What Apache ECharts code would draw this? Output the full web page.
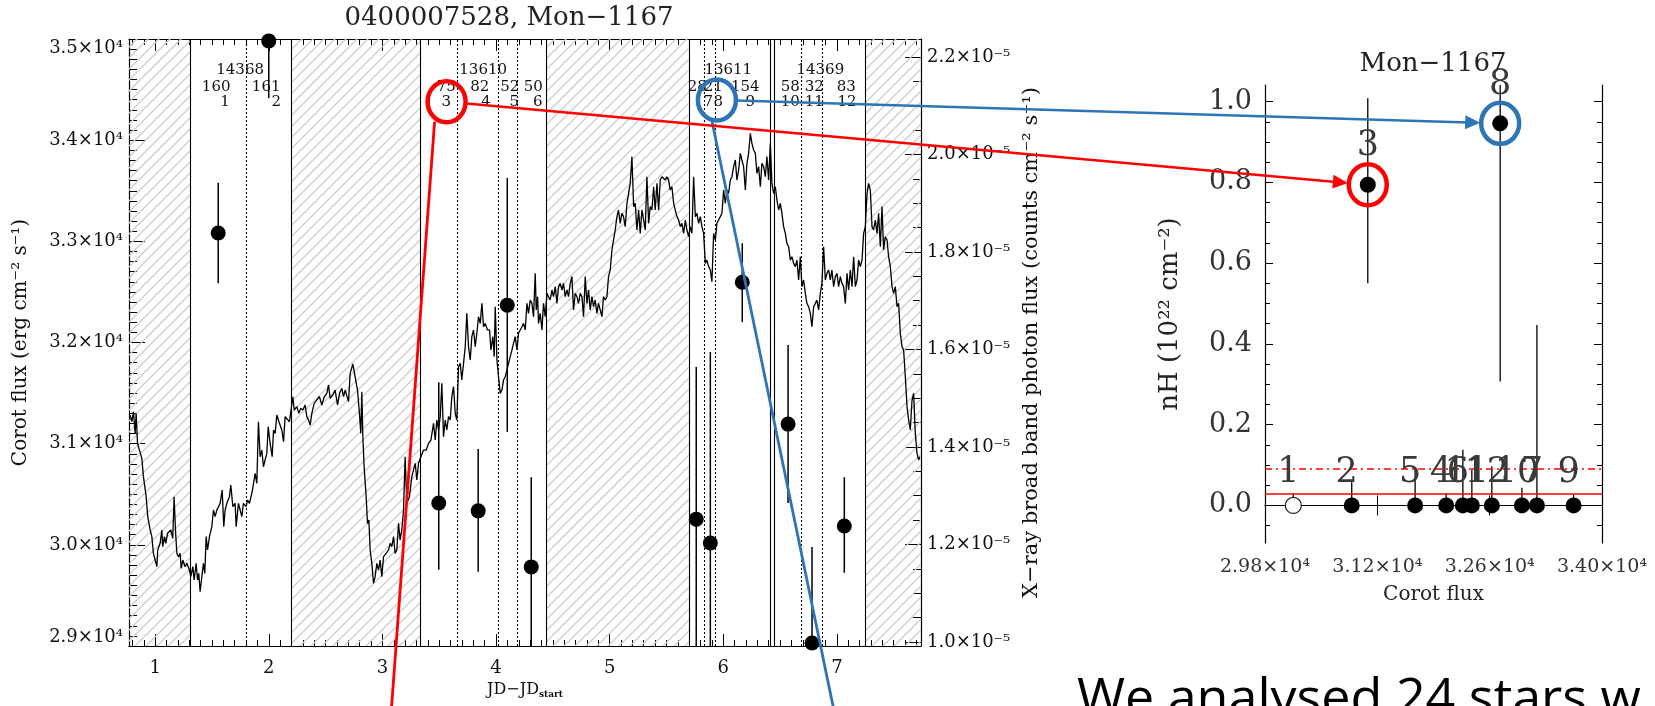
<!DOCTYPE html>
<html>
<head>
<meta charset="utf-8">
<script src="https://cdn.jsdelivr.net/npm/echarts@6/dist/echarts.min.js"></script>
<style>
  html, body { margin: 0; padding: 0; background: #fff; }
  #main { width: 1655px; height: 706px; }
</style>
</head>
<body>
<div id="main"></div>
<script>
var F = 'DejaVu Serif';

// CoRoT light curve: [JD - JD_start, Corot flux]
var lightCurve = [
  [0.780,31283],[0.795,31217],[0.809,31316],[0.824,31102],[0.833,31300],[0.845,31003],[0.862,31020],[0.883,30855],[0.897,30674],[0.921,30476],
  [0.935,30278],[0.956,30147],[0.971,30081],[0.985,29916],[1.000,29850],[1.015,29784],[1.023,29949],[1.044,30015],[1.059,30147],[1.067,29982],
  [1.082,30081],[1.094,30015],[1.109,30114],[1.126,30097],[1.138,30147],[1.155,30064],[1.167,30476],[1.179,30147],[1.191,29916],[1.205,29883],
  [1.220,29916],[1.229,29768],[1.243,29850],[1.264,29784],[1.279,29817],[1.302,29751],[1.314,29685],[1.332,29784],[1.343,29652],[1.361,29817],
  [1.373,29652],[1.384,29718],[1.396,29537],[1.411,29685],[1.425,29817],[1.437,29718],[1.449,30081],[1.461,29949],[1.478,30081],[1.499,30180],
  [1.513,30344],[1.528,30278],[1.543,30344],[1.572,30410],[1.590,30542],[1.604,30180],[1.616,30344],[1.631,30410],[1.654,30476],[1.666,30591],
  [1.684,30377],[1.704,30410],[1.713,30180],[1.733,30410],[1.748,30344],[1.763,30278],[1.777,30410],[1.801,30377],[1.813,30443],[1.830,30410],
  [1.851,30509],[1.866,30608],[1.880,30707],[1.895,30608],[1.909,31217],[1.924,30871],[1.939,30937],[1.953,30772],[1.968,30839],[1.983,30904],
  [1.995,31168],[2.012,31003],[2.030,30871],[2.042,31135],[2.056,31102],[2.071,31283],[2.094,31201],[2.115,31135],[2.130,31020],[2.144,31267],
  [2.159,31267],[2.182,31217],[2.212,31464],[2.224,31333],[2.247,31366],[2.265,31300],[2.282,31349],[2.300,31333],[2.320,31382],[2.335,31267],
  [2.350,31234],[2.364,31184],[2.379,31300],[2.400,31399],[2.423,31432],[2.446,31464],[2.467,31382],[2.488,31464],[2.511,31497],[2.526,31580],
  [2.540,31448],[2.564,31481],[2.584,31530],[2.605,31382],[2.623,31497],[2.643,31547],[2.658,31464],[2.672,31530],[2.687,31514],[2.702,31415],
  [2.716,31695],[2.740,31787],[2.760,31662],[2.781,31530],[2.798,31300],[2.810,31102],[2.819,31514],[2.828,31069],[2.839,30773],[2.857,30476],
  [2.869,30212],[2.881,30245],[2.892,29949],[2.907,29817],[2.922,29619],[2.936,29685],[2.951,29817],[2.966,29751],[2.980,29850],[2.995,29685],
  [3.010,29883],[3.033,29916],[3.054,29949],[3.068,30015],[3.083,29982],[3.098,30081],[3.112,29916],[3.127,29949],[3.142,30212],[3.156,30048],
  [3.171,30147],[3.186,30344],[3.200,30871],[3.215,30410],[3.238,30476],[3.259,30674],[3.289,30806],[3.303,30641],[3.318,30806],[3.339,30871],
  [3.362,30937],[3.386,30937],[3.406,31003],[3.427,31036],[3.450,31201],[3.465,31036],[3.479,31234],[3.494,31135],[3.509,31267],[3.523,31596],
  [3.538,31069],[3.553,31234],[3.567,31135],[3.582,31267],[3.597,31234],[3.611,31465],[3.626,31563],[3.641,31300],[3.655,31234],[3.670,31761],
  [3.685,31794],[3.699,31629],[3.714,31794],[3.729,31959],[3.743,32288],[3.758,31959],[3.773,31827],[3.787,32058],[3.802,32124],[3.817,31959],
  [3.831,32091],[3.846,32255],[3.861,32189],[3.876,32387],[3.890,32156],[3.905,32189],[3.925,32124],[3.943,32124],[3.955,31926],[3.972,32058],
  [3.984,31860],[3.993,32354],[4.008,31827],[4.022,31662],[4.037,31497],[4.052,31530],[4.066,31629],[4.081,31662],[4.096,31728],[4.110,31794],
  [4.125,31860],[4.140,31926],[4.154,31992],[4.169,32058],[4.184,31926],[4.198,32091],[4.213,32124],[4.228,32156],[4.242,32189],[4.257,32124],
  [4.272,32387],[4.286,32288],[4.301,32420],[4.316,32387],[4.330,32255],[4.345,32684],[4.354,32321],[4.366,32453],[4.374,32189],[4.389,32288],
  [4.404,32124],[4.418,32387],[4.433,32255],[4.448,32486],[4.462,32453],[4.477,32420],[4.492,32519],[4.506,32453],[4.521,32552],[4.536,32387],
  [4.550,32552],[4.565,32585],[4.580,32519],[4.594,32585],[4.609,32453],[4.624,32519],[4.638,32453],[4.653,32585],[4.668,32651],[4.682,32321],
  [4.697,32486],[4.712,32453],[4.726,32387],[4.741,32486],[4.756,32453],[4.770,32255],[4.785,32651],[4.800,32387],[4.814,32519],[4.829,32321],
  [4.844,32453],[4.858,32354],[4.873,32420],[4.888,32288],[4.902,32387],[4.917,32321],[4.932,32255],[4.946,32453],[4.961,32420],[4.976,32453],
  [4.990,32651],[5.005,32717],[5.020,32914],[5.034,33013],[5.049,33112],[5.064,33244],[5.078,33310],[5.093,33178],[5.108,33277],[5.122,33244],
  [5.137,33145],[5.152,33376],[5.166,33376],[5.181,33573],[5.196,33837],[5.211,33343],[5.225,33376],[5.240,33112],[5.255,33310],[5.269,33079],
  [5.284,33310],[5.299,33211],[5.313,33112],[5.328,33639],[5.343,33178],[5.357,33343],[5.372,33310],[5.387,33540],[5.401,33310],[5.416,33573],
  [5.431,33310],[5.445,33606],[5.460,33639],[5.475,33639],[5.489,33606],[5.504,33639],[5.519,33606],[5.533,33507],[5.548,33540],[5.563,33376],
  [5.577,33310],[5.592,33244],[5.607,33211],[5.622,33145],[5.636,33178],[5.651,33079],[5.666,33211],[5.680,33112],[5.695,33046],[5.710,33145],
  [5.724,33079],[5.739,33639],[5.754,33244],[5.768,33277],[5.783,33178],[5.798,33244],[5.812,33145],[5.827,33079],[5.842,32782],[5.856,32815],
  [5.871,32750],[5.886,32717],[5.900,32601],[5.915,33079],[5.930,33013],[5.944,33178],[5.959,33211],[5.974,33244],[5.988,33277],[6.003,33507],
  [6.018,33376],[6.032,33507],[6.047,33474],[6.062,33606],[6.076,33639],[6.091,33738],[6.106,33804],[6.120,33606],[6.135,33705],[6.150,33870],
  [6.164,33804],[6.179,33738],[6.194,33507],[6.208,33771],[6.223,33870],[6.238,34068],[6.252,33969],[6.267,33903],[6.282,33870],[6.296,33672],
  [6.311,33738],[6.326,33540],[6.340,33771],[6.355,33738],[6.370,33639],[6.384,33837],[6.399,33606],[6.414,33969],[6.428,33573],[6.443,33474],
  [6.458,33540],[6.472,33409],[6.487,33310],[6.502,33376],[6.516,33277],[6.531,33145],[6.546,33079],[6.560,32980],[6.575,32947],[6.590,32815],
  [6.604,32848],[6.619,32782],[6.634,32750],[6.648,32815],[6.663,32618],[6.678,32848],[6.692,32552],[6.707,32618],[6.722,32486],[6.736,32387],
  [6.751,32354],[6.766,32288],[6.780,32156],[6.795,32354],[6.810,32387],[6.824,32420],[6.839,32321],[6.854,32486],[6.868,32585],[6.883,32947],
  [6.898,32618],[6.912,32684],[6.927,32717],[6.942,32618],[6.956,32717],[6.971,32552],[6.986,32651],[7.000,32684],[7.015,32552],[7.030,32651],
  [7.044,32585],[7.059,32552],[7.074,32387],[7.089,32684],[7.103,32519],[7.118,32717],[7.133,32552],[7.147,32848],[7.162,32552],[7.177,32618],
  [7.191,32815],[7.206,32750],[7.221,32815],[7.235,33079],[7.250,33145],[7.265,33474],[7.279,33573],[7.294,33507],[7.309,33145],[7.323,33112],
  [7.338,33211],[7.353,33079],[7.367,33277],[7.382,32947],[7.397,33343],[7.411,32914],[7.426,33046],[7.441,33013],[7.455,32848],[7.470,32750],
  [7.485,32552],[7.499,32486],[7.514,32552],[7.529,32354],[7.543,32387],[7.558,32090],[7.573,31959],[7.587,31926],[7.602,31662],[7.617,31366],
  [7.631,31234],[7.646,31135],[7.661,31431],[7.675,31497],[7.690,31102],[7.705,30904],[7.719,30838],[7.730,30870]
];

// X-ray broad band photon flux (units of 1e-5 counts cm^-2 s^-1)
var xrayTime = [1.555, 2.000, 3.496, 3.843, 4.099, 4.310, 5.762, 5.886, 6.167, 6.570, 6.781, 7.065];
var xrayFlux = [1.839, 2.233, 1.285, 1.269, 1.691, 1.154, 1.252, 1.203, 1.738, 1.447, 0.998, 1.238];
var xrayLow  = [1.736, 2.116, 1.148, 1.144, 1.431, 0.900, 0.900, 0.900, 1.656, 1.285, 0.900, 1.142];
var xrayHigh = [1.942, 2.400, 1.533, 1.396, 1.952, 1.338, 1.564, 1.595, 1.818, 1.609, 1.195, 1.338];

// time intervals
var hatchBands = [[0.77, 1.31], [2.2, 3.333], [4.44, 5.695], [7.25, 7.74]];
var solidCuts  = [1.31, 2.2, 3.333, 4.44, 5.695, 6.414, 6.45, 7.25];
var dottedCuts = [1.80, 3.661, 4.022, 4.19, 5.83, 5.935, 6.69, 6.87];

// interval annotations (three rows above the curve)
var rowTopX = [1.748, 3.887, 6.044, 6.854];
var rowTopText = ['14368', '13610', '13611', '14369'];
var rowMidX = [1.537, 1.977, 3.562, 3.857, 4.121, 4.327, 5.771, 5.912, 6.194, 6.590, 6.801, 7.083];
var rowMidText = ['160', '161', '75', '82', '52', '50', '28', '21', '154', '58', '32', '83'];
var rowLowX = [1.616, 2.065, 3.562, 3.911, 4.160, 4.367, 5.868, 5.956, 6.238, 6.590, 6.801, 7.089];
var rowLowText = ['1', '2', '3', '4', '5', '6', '7', '8', '9', '10', '11', '12'];
var rowLevels = [34694, 34528, 34380];

// nH versus Corot flux
var nhName  = ['1', '2', '5', '4', '6', '11', '12', '10', '7', '9', '3', '8'];
var nhCorot = [30153, 30881, 31671, 32058, 32266, 32378, 32627, 33002, 33189, 33646, 31081, 32731];
var nhValue = [0, 0, 0, 0, 0, 0, 0, 0, 0, 0, 0.794, 0.946];
var nhLow   = [0, 0, 0, 0, 0, 0, 0, 0, 0, 0, 0.550, 0.307];
var nhHigh  = [0.031, 0.059, 0.088, 0.031, 0.138, 0.088, 0.097, 0.044, 0.447, 0.026, 1.008, 1.200];
var nhOpen  = [true, false, false, false, false, false, false, false, false, false, false, false];
var nhLevels = [0.033, 0.087];

// tick lists
var jdMajor = [1, 2, 3, 4, 5, 6, 7];
var jdMinor = [];
for (var k = 8; k <= 77; k++) if (k % 10) jdMinor.push(k / 10);
var xrMajor = [], xrMinor = [];
for (var k = 20; k <= 44; k++) (k % 4 ? xrMinor : xrMajor).push(k * 0.05);
var nhMajor = [], nhMinor = [];
for (var k = -1; k <= 20; k++) (k % 4 ? nhMinor : nhMajor).push(k * 0.05);
if (nhMajor[0] < 0) nhMajor.shift();

function hatch() {
  var s = 11, c = document.createElement('canvas');
  c.width = s; c.height = s;
  var g = c.getContext('2d');
  g.strokeStyle = '#cdcdcd';
  g.lineWidth = 1.3;
  g.beginPath();
  g.moveTo(0, s); g.lineTo(s, 0);
  g.moveTo(-s / 2, s / 2); g.lineTo(s / 2, -s / 2);
  g.moveTo(s / 2, s * 1.5); g.lineTo(s * 1.5, s / 2);
  g.stroke();
  return c;
}

var black = { color: '#000', width: 1.2 };
function tickAxis(o) {
  return Object.assign({
    type: 'value',
    splitLine: { show: false },
    axisLine: { show: false },
    axisLabel: { show: false }
  }, o);
}
function ticks(values, len) {
  return { show: true, inside: true, length: len, customValues: values, lineStyle: { color: '#000', width: 1 } };
}

var chart = echarts.init(document.getElementById('main'));

function errorBar(width) {
  return function (params, api) {
    var a = api.coord([api.value(0), api.value(1)]);
    var b = api.coord([api.value(0), api.value(2)]);
    return { type: 'line', shape: { x1: a[0], y1: a[1], x2: b[0], y2: b[1] }, style: { stroke: '#000', lineWidth: width } };
  };
}

var rowData = [];
rowTopX.forEach(function (x, i) { rowData.push([x, rowLevels[0], rowTopText[i]]); });
rowMidX.forEach(function (x, i) { rowData.push([x, rowLevels[1], rowMidText[i]]); });
rowLowX.forEach(function (x, i) { rowData.push([x, rowLevels[2], rowLowText[i]]); });

var option = {
  animation: false,
  backgroundColor: '#fff',
  title: [
    { text: '0400007528, Mon\u22121167', left: 509, top: 5, textAlign: 'center', padding: 0,
      textStyle: { fontFamily: F, fontWeight: 'normal', fontSize: 26, color: '#222' } },
    { text: 'Mon\u22121167', left: 1433, top: 51, textAlign: 'center', padding: 0,
      textStyle: { fontFamily: F, fontWeight: 'normal', fontSize: 26, color: '#222' } }
  ],
  grid: [
    { left: 129, right: 734, top: 39, bottom: 60 },
    { left: 1265, right: 53, top: 85, bottom: 163 }
  ],
  xAxis: [
    tickAxis({ gridIndex: 0, position: 'bottom', min: 0.77, max: 7.74,
      axisLine: { show: true, lineStyle: black },
      axisTick: ticks(jdMajor, 12),
      axisLabel: { show: true, customValues: jdMajor, margin: 13, fontFamily: F, fontSize: 18, color: '#111' },
      name: 'JD\u2212JD{s|start}', nameLocation: 'middle', nameGap: 34,
      nameTextStyle: { fontFamily: F, fontSize: 16, color: '#111',
        rich: { s: { fontFamily: F, fontSize: 9, fontWeight: 'bold', color: '#111', padding: [10, 0, 0, 0] } } } }),
    tickAxis({ gridIndex: 0, position: 'bottom', min: 0.77, max: 7.74, axisTick: ticks(jdMinor, 6) }),
    tickAxis({ gridIndex: 0, position: 'top', min: 0.77, max: 7.74,
      axisLine: { show: true, lineStyle: black }, axisTick: ticks(jdMajor, 12) }),
    tickAxis({ gridIndex: 0, position: 'top', min: 0.77, max: 7.74, axisTick: ticks(jdMinor, 6) }),
    tickAxis({ gridIndex: 1, position: 'bottom', min: 29800, max: 34000,
      axisLine: { show: true, lineStyle: black },
      axisTick: ticks([31200, 32600], 10),
      axisLabel: { show: true, customValues: [29800, 31200, 32600, 34000], margin: 15,
        fontFamily: F, fontSize: 19, color: '#333',
        formatter: function (v) { return (v / 1e4).toFixed(2) + '\u00d710\u2074'; } },
      name: 'Corot flux', nameLocation: 'middle', nameGap: 42,
      nameTextStyle: { fontFamily: F, fontSize: 20, color: '#222' } }),
    tickAxis({ gridIndex: 1, position: 'top', min: 29800, max: 34000,
      axisLine: { show: true, lineStyle: black }, axisTick: ticks([31200, 32600], 10) })
  ],
  yAxis: [
    { type: 'value', gridIndex: 0, position: 'left', min: 29000, max: 35000, interval: 1000,
      splitLine: { show: false },
      axisLine: { show: true, lineStyle: black },
      axisTick: { show: true, inside: true, length: 16, lineStyle: { color: '#000' } },
      minorTick: { show: true, splitNumber: 10, length: 8, lineStyle: { color: '#000' } },
      axisLabel: { margin: 6, fontFamily: F, fontSize: 18, color: '#111',
        verticalAlignMinLabel: 'bottom', verticalAlignMaxLabel: 'top',
        formatter: function (v) { return (v / 1e4).toFixed(1) + '\u00d710\u2074'; } },
      name: 'Corot flux (erg cm\u207b\u00b2 s\u207b\u00b9)', nameLocation: 'middle', nameRotate: 90, nameGap: 98,
      nameTextStyle: { fontFamily: F, fontSize: 20, color: '#111' } },
    tickAxis({ gridIndex: 0, position: 'right', min: 0.9918, max: 2.2369,
      axisLine: { show: true, lineStyle: black },
      axisTick: ticks(xrMajor, 16),
      axisLabel: { show: true, customValues: xrMajor, margin: 6, fontFamily: F, fontSize: 18, color: '#111',
        formatter: function (v) { return v.toFixed(1) + '\u00d710\u207b\u2075'; } },
      name: 'X\u2212ray broad band photon flux (counts cm\u207b\u00b2 s\u207b\u00b9)', nameLocation: 'middle',
      nameRotate: 90, nameGap: 100,
      nameTextStyle: { fontFamily: F, fontSize: 21, color: '#111' } }),
    tickAxis({ gridIndex: 0, position: 'right', min: 0.9918, max: 2.2369, axisTick: ticks(xrMinor, 8) }),
    tickAxis({ gridIndex: 1, position: 'left', min: -0.093, max: 1.041,
      axisLine: { show: true, lineStyle: black },
      axisTick: ticks(nhMajor, 8),
      axisLabel: { show: true, customValues: nhMajor, margin: 13, fontFamily: F, fontSize: 27, color: '#333',
        formatter: function (v) { return v.toFixed(1); } },
      name: 'nH (10\u00b2\u00b2 cm\u207b\u00b2)', nameLocation: 'middle', nameRotate: 90, nameGap: 82,
      nameTextStyle: { fontFamily: F, fontSize: 26, color: '#222' } }),
    tickAxis({ gridIndex: 1, position: 'left', min: -0.093, max: 1.041, axisTick: ticks(nhMinor, 5) }),
    tickAxis({ gridIndex: 1, position: 'right', min: -0.093, max: 1.041,
      axisLine: { show: true, lineStyle: black }, axisTick: ticks(nhMajor, 8) }),
    tickAxis({ gridIndex: 1, position: 'right', min: -0.093, max: 1.041, axisTick: ticks(nhMinor, 5) })
  ],
  series: [
    {
      type: 'line', xAxisIndex: 0, yAxisIndex: 0, data: [], z: 1, silent: true,
      markArea: {
        silent: true,
        itemStyle: { color: { image: hatch(), repeat: 'repeat' } },
        data: hatchBands.map(function (b) { return [{ xAxis: b[0] }, { xAxis: b[1] }]; })
      },
      markLine: {
        silent: true, symbol: ['none', 'none'], label: { show: false },
        data: solidCuts.map(function (v) { return { xAxis: v, lineStyle: { color: '#000', width: 1.1, type: 'solid' } }; })
          .concat(dottedCuts.map(function (v) { return { xAxis: v, lineStyle: { color: '#000', width: 1.1, type: [2, 2] } }; }))
      }
    },
    {
      type: 'line', xAxisIndex: 0, yAxisIndex: 0, z: 3, symbol: 'none',
      lineStyle: { color: '#000', width: 1.3 },
      data: lightCurve
    },
    {
      type: 'custom', xAxisIndex: 0, yAxisIndex: 1, z: 4, clip: true,
      renderItem: errorBar(1.5),
      encode: { x: 0, y: [1, 2] },
      data: xrayTime.map(function (t, i) { return [t, xrayLow[i], xrayHigh[i]]; })
    },
    {
      type: 'scatter', xAxisIndex: 0, yAxisIndex: 1, z: 5, symbolSize: 15,
      itemStyle: { color: '#000', opacity: 1 },
      data: xrayTime.map(function (t, i) { return [t, xrayFlux[i]]; })
    },
    {
      type: 'scatter', xAxisIndex: 0, yAxisIndex: 0, z: 5, symbolSize: 1,
      itemStyle: { color: 'rgba(0,0,0,0)', opacity: 1 },
      label: { show: true, position: 'inside', fontFamily: F, fontSize: 15, color: '#111',
        formatter: function (p) { return p.value[2]; } },
      data: rowData
    },
    {
      type: 'custom', xAxisIndex: 4, yAxisIndex: 3, z: 4, clip: true,
      renderItem: errorBar(1.3),
      encode: { x: 0, y: [1, 2] },
      data: nhCorot.map(function (c, i) { return [c, nhLow[i], nhHigh[i]]; })
    },
    {
      type: 'scatter', xAxisIndex: 4, yAxisIndex: 3, z: 5, symbolSize: 16,
      itemStyle: { color: '#000', opacity: 1 },
      data: nhCorot.map(function (c, i) {
        return nhOpen[i]
          ? { value: [c, nhValue[i]], itemStyle: { color: '#fff', borderColor: '#222', borderWidth: 1.2 } }
          : [c, nhValue[i]];
      }),
      markLine: {
        silent: true, symbol: ['none', 'none'], label: { show: false },
        data: [
          { yAxis: nhLevels[0], lineStyle: { color: '#ff0000', width: 1.6, type: 'solid' } },
          { yAxis: nhLevels[1], lineStyle: { color: '#ff0000', width: 1.5, type: [7, 4, 2, 4] } }
        ]
      }
    },
    {
      type: 'scatter', xAxisIndex: 4, yAxisIndex: 3, z: 6, symbolSize: 1,
      itemStyle: { color: 'rgba(0,0,0,0)', opacity: 1 },
      label: { show: true, position: 'inside', fontFamily: F, fontSize: 35, color: '#3a3a3a',
        formatter: function (p) { return p.value[2]; } },
      data: nhCorot.map(function (c, i) {
        var top = nhValue[i] > 0;
        return { value: [c, nhValue[i] + (top ? 0.095 : 0.08), nhName[i]],
          label: { offset: [top ? 0 : -5, 0] } };
      })
    }
  ]
};

chart.setOption(option);

// annotation rings and arrows
var RED = '#ff0000', BLUE = '#2e75b6';
var leftRed = chart.convertToPixel({ seriesIndex: 4 }, [3.565, rowLevels[2]]);
var leftBlue = chart.convertToPixel({ seriesIndex: 4 }, [5.944, 34397]);
var rightRed = chart.convertToPixel({ seriesIndex: 6 }, [nhCorot[10], nhValue[10]]);
var rightBlue = chart.convertToPixel({ seriesIndex: 6 }, [nhCorot[11], nhValue[11]]);

function ring(c, color) {
  return { type: 'ellipse', z: 100, shape: { cx: c[0], cy: c[1], rx: 19, ry: 20.5 },
    style: { fill: 'none', stroke: color, lineWidth: 4.5 } };
}
function arrow(a, b, color) {
  var dx = b[0] - a[0], dy = b[1] - a[1], L = Math.sqrt(dx * dx + dy * dy);
  var ux = dx / L, uy = dy / L, nx = -uy, ny = ux;
  var s = [a[0] + ux * 20, a[1] + uy * 20];
  var e = [b[0] - ux * 20, b[1] - uy * 20];
  var h = 15, w = 7;
  return [
    { type: 'line', z: 100, shape: { x1: s[0], y1: s[1], x2: e[0] - ux * h * 0.8, y2: e[1] - uy * h * 0.8 },
      style: { stroke: color, lineWidth: 2.5 } },
    { type: 'polygon', z: 100, shape: { points: [e,
      [e[0] - ux * h + nx * w, e[1] - uy * h + ny * w],
      [e[0] - ux * h - nx * w, e[1] - uy * h - ny * w]] }, style: { fill: color } }
  ];
}
function drop(c, off, endDx, color) {
  return { type: 'line', z: 100,
    shape: { x1: c[0] + off[0], y1: c[1] + off[1], x2: c[0] + endDx, y2: 720 },
    style: { stroke: color, lineWidth: 2.8 } };
}

var g = [
  drop(leftRed, [-12, 20], -56, RED),
  drop(leftBlue, [-5, 21], 119, BLUE),
  ring(leftRed, RED), ring(leftBlue, BLUE), ring(rightRed, RED), ring(rightBlue, BLUE),
  { type: 'text', z: 100, x: 1077, y: 674,
    style: { text: 'We analysed 24 stars w', fontFamily: 'Open Sans', fontSize: 52, fill: '#000', verticalAlign: 'top' } }
].concat(arrow(leftRed, rightRed, RED)).concat(arrow(leftBlue, rightBlue, BLUE));

chart.setOption({ graphic: g });
</script>
</body>
</html>
